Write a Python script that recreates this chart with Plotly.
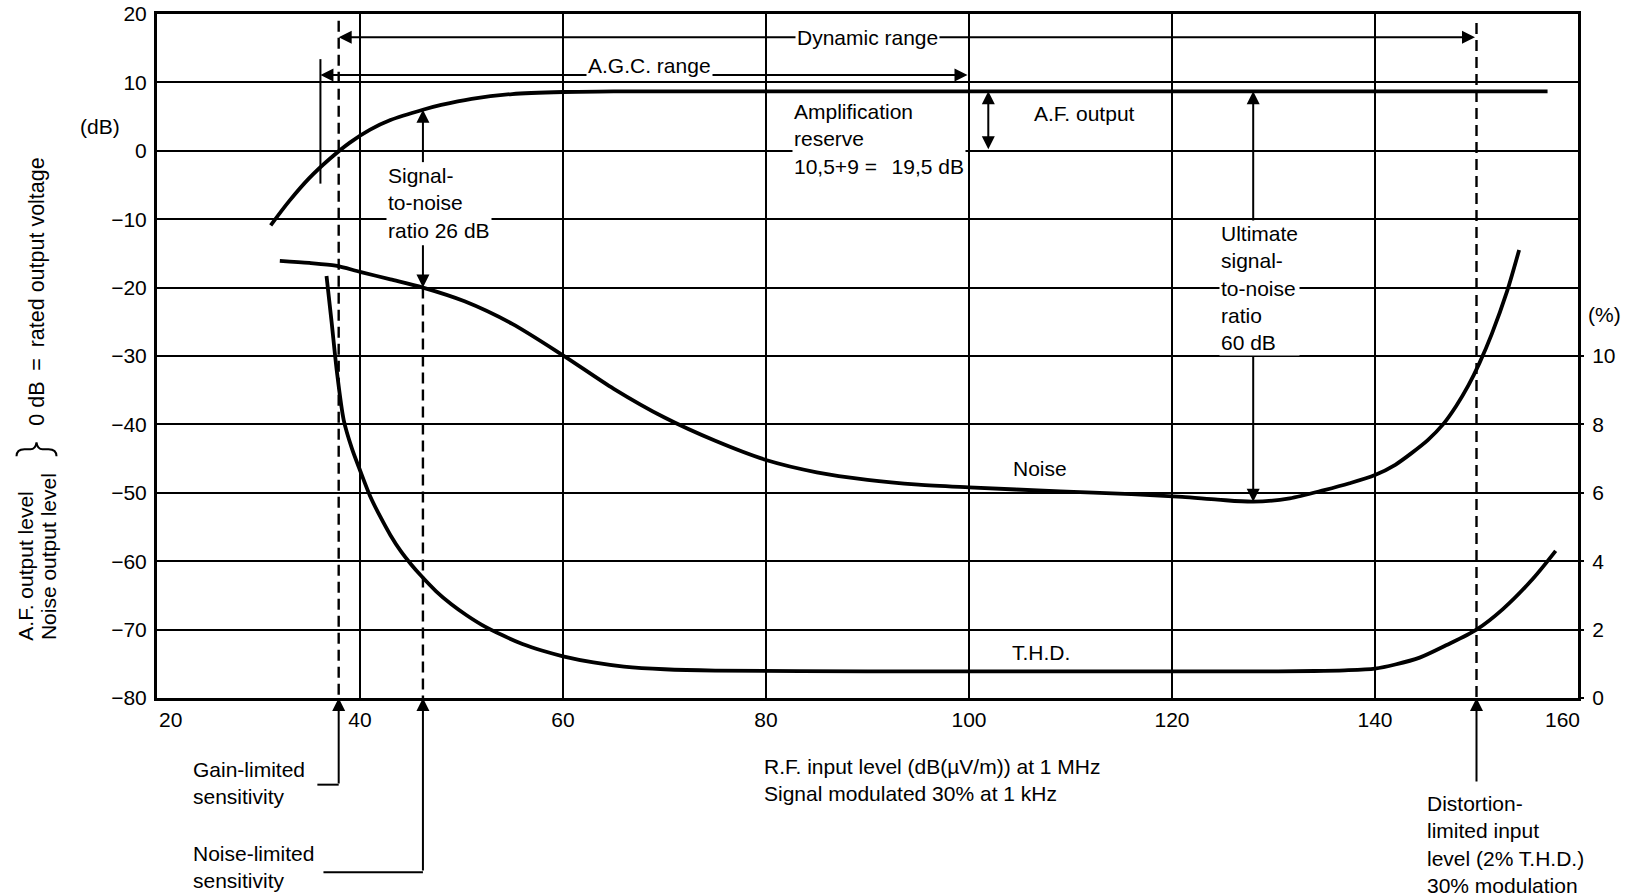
import plotly.graph_objects as go

# ---- data (R.F. input level in dB(µV/m)) ----
af_x = [31.2, 33.0, 35.0, 37.0, 39.0, 41.0, 43.0, 46.2, 48.0, 51.0, 55.0, 60.0, 65.0, 157.0]
af_y = [-10.9, -7.4, -4.0, -1.2, 1.2, 3.1, 4.5, 6.0, 6.7, 7.6, 8.3, 8.6, 8.7, 8.7]

noise_x = [32.1, 35.0, 37.6, 40.0, 43.0, 46.2, 50.3, 55.0, 60.0, 65.0, 70.0, 75.0, 80.0,
           85.0, 90.0, 95.0, 100.0, 109.0, 116.0, 121.0, 124.5, 128.0, 131.6, 135.0, 137.5,
           140.0, 142.0, 143.6, 145.2, 146.7, 148.0, 149.2, 150.3, 151.5, 153.0, 154.2]
noise_y = [-16.1, -16.4, -16.8, -17.7, -18.8, -20.0, -22.0, -25.3, -29.9, -34.8, -39.0, -42.4, -45.2,
           -47.0, -48.1, -48.8, -49.2, -49.8, -50.2, -50.6, -51.0, -51.3, -50.8, -49.6, -48.6,
           -47.4, -45.9, -44.2, -42.3, -40.0, -37.3, -34.3, -31.0, -26.8, -20.6, -14.5]

thd_x = [36.7, 37.2, 37.7, 38.4, 39.2, 40.0, 41.0, 42.0, 43.0, 44.0, 45.0, 46.0, 47.5, 49.0,
         50.5, 52.0, 54.0, 56.0, 58.0, 60.0, 63.0, 66.0, 70.0, 75.0, 90.0, 110.0, 130.0,
         134.0, 137.0, 140.0, 142.0, 144.4, 147.0, 150.0, 152.6, 155.6, 157.8]
thd_pct = [12.34, 11.0, 9.6, 8.12, 7.3, 6.66, 5.9, 5.3, 4.76, 4.3, 3.92, 3.58, 3.12, 2.74,
           2.42, 2.14, 1.84, 1.58, 1.38, 1.22, 1.04, 0.92, 0.84, 0.8, 0.78, 0.78, 0.78,
           0.79, 0.81, 0.86, 0.98, 1.18, 1.54, 2.0, 2.6, 3.5, 4.3]

x_ticks = [20, 40, 60, 80, 100, 120, 140, 160]
x_tick_text = ["20", "40", "60", "80", "100", "120", "140", "160"]
y_ticks = [20, 10, 0, -10, -20, -30, -40, -50, -60, -70, -80]
y_tick_text = ["20", "10", "0", "\u221210", "\u221220", "\u221230", "\u221240",
               "\u221250", "\u221260", "\u221270", "\u221280"]
pct_ticks = [0, 2, 4, 6, 8, 10]

# ---- characteristic levels ----
gain_limited = 37.9        # gain-limited sensitivity
noise_limited = 46.2       # noise-limited sensitivity
distortion_limited = 150.0 # 2 % T.H.D. point
agc_start, agc_end = 36.1, 100.0
af_level = 8.7
sn_signal, sn_noise = 6.0, -20.0
ult_x, ult_noise = 128.0, -51.3
reserve_x = 101.9
dyn_level, agc_level = 16.6, 11.1

FONT = "Liberation Sans, Arial, sans-serif"
FS = 21
BLACK = "black"
CURVE = dict(color=BLACK, width=3.8, shape="spline", smoothing=0.8)

fig = go.Figure()

fig.add_trace(go.Scatter(x=af_x, y=af_y, mode="lines", line=CURVE, hoverinfo="skip", showlegend=False))
fig.add_trace(go.Scatter(x=noise_x, y=noise_y, mode="lines", line=CURVE, hoverinfo="skip", showlegend=False))
fig.add_trace(go.Scatter(x=thd_x, y=thd_pct, yaxis="y2", mode="lines", line=CURVE,
                         hoverinfo="skip", showlegend=False))

# ---- dashed sensitivity / distortion markers ----
dash = "11px,6px"
for x0, ytop in [(gain_limited, 19.0), (noise_limited, sn_noise), (distortion_limited, 18.7)]:
    fig.add_shape(type="line", xref="x", yref="y", x0=x0, x1=x0, y0=ytop, y1=-80,
                  line=dict(color=BLACK, width=2.4, dash=dash), layer="above")

# A.G.C. start tick
fig.add_shape(type="line", xref="x", yref="y", x0=agc_start, x1=agc_start, y0=13.4, y1=-4.8,
              line=dict(color=BLACK, width=2), layer="above")


def arrow(xt, yt, xs, ys, both=False):
    fig.add_annotation(x=xt, y=yt, ax=xs, ay=ys, xref="x", yref="y", axref="x", ayref="y",
                       text="", showarrow=True, arrowhead=2, arrowsize=1.3, arrowwidth=2,
                       arrowcolor=BLACK, standoff=0, startstandoff=0,
                       arrowside="end+start" if both else "end",
                       startarrowhead=2, startarrowsize=1.3)


def down_leader(xt, length_px):
    fig.add_annotation(x=xt, y=-80, ax=0, ay=length_px, xref="x", yref="y",
                       axref="pixel", ayref="pixel", text="", showarrow=True,
                       arrowhead=2, arrowsize=1.3, arrowwidth=2, arrowcolor=BLACK,
                       standoff=0, startstandoff=0)


arrow(gain_limited, dyn_level, distortion_limited, dyn_level, both=True)
arrow(agc_start, agc_level, agc_end, agc_level, both=True)
arrow(reserve_x, af_level, reserve_x, 0, both=True)
arrow(noise_limited, sn_signal, noise_limited, -1.9)
arrow(noise_limited, sn_noise, noise_limited, -13.6)
arrow(ult_x, af_level, ult_x, -10.55)
arrow(ult_x, ult_noise, ult_x, -29.6)

down_leader(gain_limited, 87)
down_leader(noise_limited, 174)
down_leader(distortion_limited, 85)

fig.add_shape(type="line", xref="x", yref="paper", x0=35.8, x1=gain_limited, y0=-0.1267, y1=-0.1267,
              line=dict(color=BLACK, width=2))
fig.add_shape(type="line", xref="x", yref="paper", x0=36.4, x1=noise_limited, y0=-0.2548, y1=-0.2548,
              line=dict(color=BLACK, width=2))


def label(text, x, y, xanchor="left", xref="x", yref="y", bg=None, angle=0, yanchor="middle",
          size=FS, xshift=0):
    fig.add_annotation(text=text, x=x, y=y, xref=xref, yref=yref, xanchor=xanchor, yanchor=yanchor,
                       align="left", showarrow=False, textangle=angle, xshift=xshift,
                       font=dict(family=FONT, size=size, color=BLACK),
                       bgcolor=bg, borderpad=1)


label("Dynamic range", 90.0, dyn_level, xanchor="center", bg="white")
label("A.G.C. range", 68.5, 12.5, xanchor="center", bg="white")
label("Amplification<br>reserve<br>10,5+9 =\u2002\u200919,5 dB", 82.6, 1.75, bg="white")
label("A.F. output", 106.2, 5.5)
label("Signal-<br>to-noise<br>ratio 26 dB", 42.6, -7.7, bg="white")
label("Ultimate<br>signal-<br>to-noise<br>ratio<br>60 dB", 124.6, -20.1, bg="white")
label("Noise", 107.0, -46.5, xanchor="center")
label("T.H.D.", 107.1, -73.4, xanchor="center")

label("R.F. input level (dB(\u00b5V/m)) at 1 MHz<br>Signal modulated 30% at 1 kHz", 79.6, -0.1194, yref="paper")
label("Gain-limited<br>sensitivity", 23.35, -0.1248, yref="paper")
label("Noise-limited<br>sensitivity", 23.35, -0.2477, yref="paper")
label("Distortion-<br>limited input<br>level (2% T.H.D.)<br>30% modulation", 144.9, -0.2138, yref="paper")

# end tick labels of the R.F. axis sit inside the frame corners
label(x_tick_text[0], x_ticks[0], -0.031, xanchor="left", yref="paper")
label(x_tick_text[-1], x_ticks[-1], -0.031, xanchor="right", yref="paper", xshift=4)

# axis captions
label("(dB)", -0.0401, 3.6, xanchor="center", xref="paper")
label("(%)", 1.0183, -24.0, xanchor="center", xref="paper")
label("A.F. output level", -0.0925, -71.9, xanchor="center", xref="paper", angle=-90, yanchor="bottom")
label("Noise output level", -0.0767, -71.9, xanchor="center", xref="paper", angle=-90, yanchor="bottom")
label("0 dB\u2002=\u2002rated output voltage", -0.0841, -40.4, xanchor="center", xref="paper",
      angle=-90, yanchor="bottom", size=21.5)

# curly brace joining the two caption lines
fig.add_shape(type="path", xref="paper", yref="y", xsizemode="pixel", ysizemode="pixel",
              xanchor=-0.0848, yanchor=-43.5,
              path="M -20,-8 Q -20,-1 -12,-1 L -6,-1 Q -1,-1 0,6 Q 1,-1 6,-1 L 12,-1 Q 20,-1 20,-8",
              line=dict(color=BLACK, width=2))

inner_x_text = [""] + x_tick_text[1:-1] + [""]

fig.update_layout(
    width=1628, height=896,
    margin=dict(l=157, r=50, t=14, b=198),
    paper_bgcolor="white", plot_bgcolor="white",
    font=dict(family=FONT, size=FS, color=BLACK),
    xaxis=dict(range=[20, 160], tickvals=x_ticks, ticktext=inner_x_text, automargin=False,
               showgrid=True, gridcolor=BLACK, gridwidth=1.6, zeroline=False,
               showline=True, linecolor=BLACK, linewidth=3, mirror=True,
               ticks="", ticklabelstandoff=1, tickfont=dict(size=FS)),
    yaxis=dict(range=[-80, 20], tickvals=y_ticks, ticktext=y_tick_text, automargin=False,
               showgrid=True, gridcolor=BLACK, gridwidth=1.6, zeroline=False,
               showline=True, linecolor=BLACK, linewidth=3, mirror=True,
               ticks="", ticklabelstandoff=3, tickfont=dict(size=FS)),
    yaxis2=dict(range=[0, 20], overlaying="y", side="right", tickvals=pct_ticks, automargin=False,
                ticktext=[str(v) for v in pct_ticks], showgrid=False, zeroline=False,
                showline=False, ticks="outside", ticklen=5, tickwidth=2, tickcolor=BLACK,
                ticklabelstandoff=4, tickfont=dict(size=FS)),
    showlegend=False,
)

fig.write_html("out.html")
